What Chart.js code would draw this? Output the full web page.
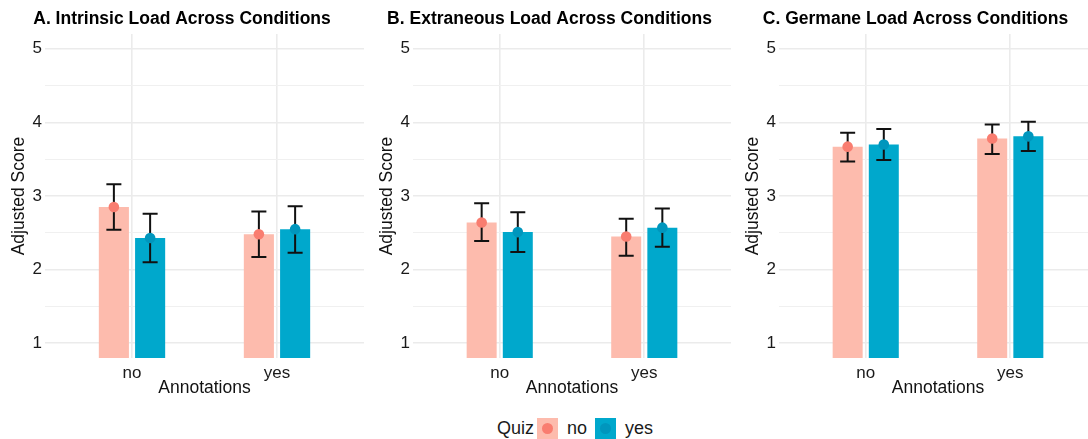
<!DOCTYPE html>
<html>
<head>
<meta charset="utf-8">
<script src="https://cdn.jsdelivr.net/npm/chart.js@4.4.1/dist/chart.umd.min.js"></script>
<style>
  html, body { margin:0; padding:0; background:#fff; }
  #fig { position:relative; width:1088px; height:439px; overflow:hidden; font-family:'Liberation Sans', Arial, sans-serif; }
  .panel { position:absolute; top:0; }
  #legend { position:absolute; top:418px; left:497px; display:flex; align-items:center; font-size:18px; color:#1a1a1a; line-height:21px; }
  .key { width:21px; height:21px; position:relative; margin:0 9px 0 3px; }
  .key span { position:absolute; left:5px; top:5px; width:11px; height:11px; border-radius:50%; }
</style>
</head>
<body>
<div id="fig">
  <canvas id="chart-a" class="panel" width="380" height="400" style="left:0px"></canvas>
  <canvas id="chart-b" class="panel" width="404" height="400" style="left:368px"></canvas>
  <canvas id="chart-c" class="panel" width="384" height="400" style="left:734px"></canvas>
  <div id="legend">
    <span>Quiz</span>
    <div class="key" style="background:#FDBBAD"><span style="background:#F97D70"></span></div>
    <span style="margin-right:5px">no</span>
    <div class="key" style="background:#00A8CC"><span style="background:#0096BD"></span></div>
    <span>yes</span>
  </div>
</div>
<script>
// ===== DATA =====
const ANNOTATIONS = ['no', 'yes'];
const QUIZ = ['no', 'yes'];
const Y_MAJOR = [1, 2, 3, 4, 5];
const Y_MINOR = [1.5, 2.5, 3.5, 4.5];

// A. Intrinsic load (index = annotations no / yes)
const intrinsicQuizNo   = [2.85, 2.48];
const intrinsicQuizYes  = [2.43, 2.55];
const intrinsicNoLo  = [2.54, 2.17], intrinsicNoHi  = [3.16, 2.79];
const intrinsicYesLo = [2.10, 2.23], intrinsicYesHi = [2.76, 2.86];

// B. Extraneous load
const extraneousQuizNo  = [2.64, 2.45];
const extraneousQuizYes = [2.51, 2.57];
const extraneousNoLo  = [2.39, 2.19], extraneousNoHi  = [2.90, 2.69];
const extraneousYesLo = [2.24, 2.31], extraneousYesHi = [2.78, 2.83];

// C. Germane load
const germaneQuizNo  = [3.67, 3.78];
const germaneQuizYes = [3.70, 3.81];
const germaneNoLo  = [3.47, 3.57], germaneNoHi  = [3.86, 3.97];
const germaneYesLo = [3.49, 3.61], germaneYesHi = [3.91, 4.01];

const BAR_COLORS = ['#FDBBAD', '#00A8CC'];
const POINT_COLORS = ['#F97D70', '#0096BD'];
const FONT = "'Liberation Sans', Arial, sans-serif";

const PANELS = [
  {id:'chart-a', title:'A. Intrinsic Load Across Conditions', padRight:16,
   means:[intrinsicQuizNo, intrinsicQuizYes], lo:[intrinsicNoLo, intrinsicYesLo], hi:[intrinsicNoHi, intrinsicYesHi]},
  {id:'chart-b', title:'B. Extraneous Load Across Conditions', padRight:41,
   means:[extraneousQuizNo, extraneousQuizYes], lo:[extraneousNoLo, extraneousYesLo], hi:[extraneousNoHi, extraneousYesHi]},
  {id:'chart-c', title:'C. Germane Load Across Conditions', padRight:21,
   means:[germaneQuizNo, germaneQuizYes], lo:[germaneNoLo, germaneYesLo], hi:[germaneNoHi, germaneYesHi]},
];

// ===== ERROR BARS + POINTS =====
const errorPoints = {
  id:'errorPoints',
  afterDatasetsDraw(chart) {
    const ctx = chart.ctx, y = chart.scales.y;
    ctx.save();
    chart.data.datasets.forEach((ds, d) => {
      const meta = chart.getDatasetMeta(d);
      meta.data.forEach((bar, i) => {
        const top = y.getPixelForValue(ds.errHi[i]);
        const bot = y.getPixelForValue(ds.errLo[i]);
        ctx.strokeStyle = '#111';
        ctx.lineWidth = 2;
        ctx.beginPath();
        ctx.moveTo(bar.x, top); ctx.lineTo(bar.x, bot);
        ctx.moveTo(bar.x - 7.5, top); ctx.lineTo(bar.x + 7.5, top);
        ctx.moveTo(bar.x - 7.5, bot); ctx.lineTo(bar.x + 7.5, bot);
        ctx.stroke();
      });
    });
    chart.data.datasets.forEach((ds, d) => {
      const meta = chart.getDatasetMeta(d);
      meta.data.forEach((bar, i) => {
        ctx.fillStyle = ds.pointColor;
        ctx.beginPath();
        ctx.arc(bar.x, y.getPixelForValue(ds.data[i].y), 5.3, 0, Math.PI * 2);
        ctx.fill();
      });
    });
    ctx.restore();
  }
};

function buildPanel(p) {
  new Chart(document.getElementById(p.id), {
    type:'bar',
    data:{
      datasets: QUIZ.map((q, d) => ({
        label:q,
        data:p.means[d].map((v, i) => ({x:i + 1, y:v})),
        backgroundColor:BAR_COLORS[d],
        categoryPercentage:0.5,
        barPercentage:0.83,
        errLo:p.lo[d], errHi:p.hi[d], pointColor:POINT_COLORS[d],
      }))
    },
    options:{
      responsive:false, animation:false,
      layout:{padding:{left:0, right:p.padRight, top:0, bottom:0}},
      plugins:{
        legend:{display:false}, tooltip:{enabled:false},
        title:{display:true, text:p.title, color:'#000', font:{family:FONT, size:17.5, weight:'bold'}, padding:{top:9, bottom:4}}
      },
      scales:{
        x:{
          type:'linear', min:0.4, max:2.6, offset:false,
          afterBuildTicks: s => { s.ticks = ANNOTATIONS.map((_, i) => ({value:i + 1})); },
          afterFit: s => { s.height = 42; },
          grid:{color:'#EBEBEB', lineWidth:1.6, drawTicks:false, offset:false},
          border:{display:false},
          ticks:{padding:5, maxRotation:0, color:'#1A1A1A', font:{family:FONT, size:17}, callback: v => ANNOTATIONS[v - 1]},
          title:{display:true, text:'Annotations', color:'#111', font:{family:FONT, size:17.5}, padding:{top:0, bottom:1.5}}
        },
        y:{
          min:0.8, max:5.2,
          afterBuildTicks: s => { s.ticks = Y_MAJOR.concat(Y_MINOR).sort((a, b) => a - b).map(v => ({value:v})); },
          afterFit: s => { s.width = 45; },
          grid:{
            color: c => Number.isInteger(c.tick.value) ? '#EBEBEB' : '#F0F0F0',
            lineWidth: c => Number.isInteger(c.tick.value) ? 1.6 : 1.1,
            drawTicks:false
          },
          border:{display:false},
          ticks:{padding:3, color:'#1A1A1A', font:{family:FONT, size:17}, callback: v => Number.isInteger(v) ? v : ''},
          title:{display:true, text:'Adjusted Score', color:'#111', font:{family:FONT, size:17.5}, padding:{top:9, bottom:0}}
        }
      }
    },
    plugins:[errorPoints]
  });
}

PANELS.forEach(buildPanel);
</script>
</body>
</html>
